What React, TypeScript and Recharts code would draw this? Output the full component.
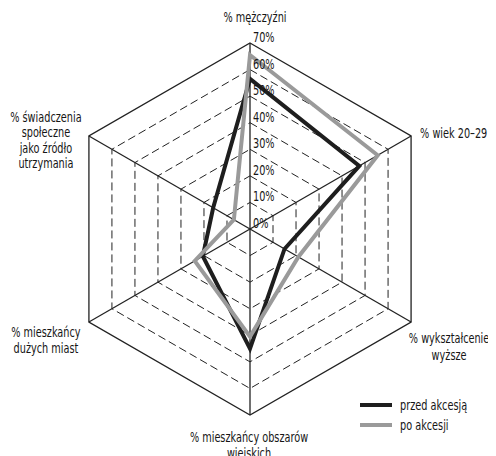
import { RadarChart, Radar, PolarGrid, PolarAngleAxis, PolarRadiusAxis, Legend } from 'recharts';

// axes, clockwise from the top
const categories = [
  '% mężczyźni',
  '% wiek 20–29',
  '% wykształcenie wyższe',
  '% mieszkańcy obszarów wiejskich',
  '% mieszkańcy dużych miast',
  '% świadczenia społeczne jako źródło utrzymania',
];
const labelLines = [
  ['% mężczyźni'],
  ['% wiek 20–29'],
  ['% wykształcenie', 'wyższe'],
  ['% mieszkańcy obszarów', 'wiejskich'],
  ['% mieszkańcy', 'dużych miast'],
  ['% świadczenia', 'społeczne', 'jako źródło', 'utrzymania'],
];
const przedAkcesja = [56.5, 47.5, 15, 45, 20.5, 16];
const poAkcesji = [65.5, 55.5, 21, 40.5, 24, 7];
const radiusTicks = [0, 10, 20, 30, 40, 50, 60, 70];
const seriesNames = ['przed akcesją', 'po akcesji'];

const data = categories.map((c, i) => ({
  axis: c,
  przed: przedAkcesja[i],
  po: poAkcesji[i],
}));

const FONT = "'DejaVu Sans Condensed', 'DejaVu Sans', sans-serif";
const TEXT = '#161616';
const R = 186;
const TICK_GAP = 8; // recharts pushes angle ticks out past the vertex
const NARROW = 0.8; // the original uses a narrow face

// where each axis label sits relative to its vertex
const labelPos = [
  { anchor: 'middle', dx: 5, dy: -21, lh: 16 },
  { anchor: 'start', dx: 9, dy: 2, lh: 16 },
  { anchor: 'middle', dx: 38, dy: 21, lh: 17 },
  { anchor: 'middle', dx: -1, dy: 27, lh: 16 },
  { anchor: 'middle', dx: -43, dy: 15, lh: 16 },
  { anchor: 'middle', dx: -43, dy: -14, lh: 15.5 },
];

function NarrowText({ x, y, anchor = 'start', lines, lh = 16 }: any) {
  return (
    <g transform={`translate(${x} ${y}) scale(${NARROW} 1)`}>
      <text
        textAnchor={anchor}
        fontSize={13.5}
        fontFamily={FONT}
        fill={TEXT}
        style={{ fontStretch: 'condensed' }}
      >
        {lines.map((line: string, k: number) => (
          <tspan key={k} x={0} y={k * lh}>
            {line}
          </tspan>
        ))}
      </text>
    </g>
  );
}

function AngleTick(props: any) {
  const { x, y, index, payload } = props;
  const a = (payload.coordinate * Math.PI) / 180;
  const vx = x - TICK_GAP * Math.cos(a);
  const vy = y + TICK_GAP * Math.sin(a);
  const p = labelPos[index];
  return <NarrowText x={vx + p.dx} y={vy + p.dy} anchor={p.anchor} lines={labelLines[index]} lh={p.lh} />;
}

function RadiusTick(props: any) {
  const { x, y, payload } = props;
  return <NarrowText x={x + 3} y={y - 1} lines={[`${payload.value}%`]} />;
}

function LegendBox() {
  const colors = ['#1e1e1e', '#9a9a9a'];
  return (
    <div style={{ fontFamily: FONT, fontSize: 13.5, color: TEXT, fontStretch: 'condensed' }}>
      {seriesNames.map((n, i) => (
        <div key={n} style={{ display: 'flex', alignItems: 'center', height: 20 }}>
          <span style={{ display: 'inline-block', width: 32, height: 4, background: colors[i], marginRight: 8 }} />
          <span style={{ display: 'inline-block', transform: `scaleX(${NARROW})`, transformOrigin: 'left center' }}>
            {n}
          </span>
        </div>
      ))}
    </div>
  );
}

export default function App() {
  return (
    <div style={{ margin: '-8px 0 0 -8px', width: 496, height: 456 }}>
      <RadarChart
        width={496}
        height={456}
        data={data}
        cx={250}
        cy={229}
        outerRadius={R}
        margin={{ top: 0, right: 0, bottom: 0, left: 0 }}
      >
        <PolarGrid
          gridType="polygon"
          radialLines={false}
          polarRadius={radiusTicks.slice(1, -1).map((t) => (t / 70) * R)}
          stroke="#222"
          strokeWidth={1}
          strokeDasharray="8 4"
        />
        <PolarGrid gridType="polygon" polarRadius={[R]} stroke="#222" strokeWidth={1.3} />
        <PolarAngleAxis dataKey="axis" tick={<AngleTick />} tickLine={false} axisLine={false} />
        <Radar
          name={seriesNames[0]}
          dataKey="przed"
          stroke="#1e1e1e"
          strokeWidth={4}
          fill="none"
          dot={false}
          isAnimationActive={false}
        />
        <Radar
          name={seriesNames[1]}
          dataKey="po"
          stroke="#9a9a9a"
          strokeWidth={4}
          fill="none"
          dot={false}
          isAnimationActive={false}
        />
        <PolarRadiusAxis
          angle={90}
          domain={[0, 70]}
          ticks={radiusTicks}
          tick={<RadiusTick />}
          tickLine={false}
          axisLine={false}
        />
        <Legend
          content={<LegendBox />}
          wrapperStyle={{ position: 'absolute', left: 360, top: 395, width: 130, bottom: 'auto' }}
        />
      </RadarChart>
    </div>
  );
}
